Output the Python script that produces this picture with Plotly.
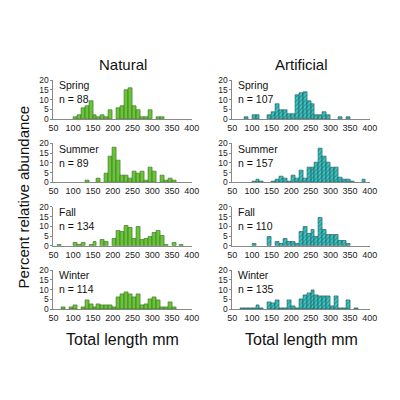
import plotly.graph_objects as go

# ---- data (bin start in mm, percent relative abundance) ----
nat_spring_bins = [100, 110, 120, 130, 140, 150, 160, 170, 180, 190, 210, 220, 230, 240, 250, 260, 270, 280, 290, 310, 320]
nat_spring_pct = [1.1, 2.3, 5.7, 6.8, 9.1, 2.3, 1.1, 2.3, 1.1, 4.5, 5.7, 6.8, 14.8, 15.9, 6.8, 4.5, 1.1, 1.1, 4.5, 1.1, 1.1]

art_spring_bins = [80, 100, 110, 140, 150, 160, 170, 180, 190, 200, 210, 220, 230, 240, 250, 260, 270, 280, 290, 320, 340]
art_spring_pct = [0.9, 1.9, 1.9, 1.9, 3.7, 7.5, 4.7, 4.7, 2.8, 2.8, 12.1, 13.1, 14.0, 9.3, 7.5, 1.9, 1.9, 3.7, 1.9, 0.9, 0.9]

nat_summer_bins = [130, 160, 180, 190, 200, 210, 220, 230, 240, 250, 260, 270, 280, 290, 300, 320, 330, 340, 350]
nat_summer_pct = [1.1, 2.2, 4.5, 13.5, 18.0, 11.2, 3.4, 3.4, 2.2, 5.6, 4.5, 5.6, 1.1, 7.9, 5.6, 3.4, 1.1, 2.2, 1.1]

art_summer_bins = [100, 110, 120, 150, 160, 170, 180, 190, 200, 210, 220, 230, 240, 250, 260, 270, 280, 290, 300, 310, 320, 330, 340, 350, 380]
art_summer_pct = [0.6, 1.3, 0.6, 0.6, 1.3, 3.2, 1.9, 0.6, 3.8, 1.9, 6.4, 1.9, 7.6, 7.6, 10.2, 17.2, 13.4, 10.2, 7.6, 7.6, 2.5, 1.3, 1.3, 0.6, 1.3]

nat_fall_bins = [60, 100, 110, 120, 140, 150, 170, 180, 200, 210, 220, 230, 240, 250, 260, 270, 280, 290, 300, 310, 320, 330, 350, 370]
nat_fall_pct = [0.7, 1.5, 0.7, 1.5, 0.7, 2.2, 3.0, 2.2, 3.7, 7.5, 7.0, 10.4, 9.0, 3.7, 9.7, 3.0, 3.7, 4.5, 6.7, 7.5, 5.2, 0.7, 1.5, 0.7]

art_fall_bins = [100, 140, 160, 170, 180, 190, 200, 210, 220, 230, 240, 250, 260, 270, 280, 290, 300, 310, 320, 330, 340]
art_fall_pct = [0.9, 4.5, 1.8, 0.9, 3.6, 1.8, 1.8, 0.9, 7.3, 10.0, 6.4, 8.2, 4.5, 14.5, 8.2, 5.5, 5.5, 5.5, 2.7, 2.7, 0.9]

nat_winter_bins = [70, 90, 100, 120, 130, 140, 150, 160, 170, 180, 190, 200, 210, 220, 230, 240, 250, 260, 270, 280, 290, 300, 310, 320, 330, 340, 350]
nat_winter_pct = [0.9, 0.9, 1.8, 0.9, 4.4, 2.6, 0.9, 2.6, 1.8, 1.8, 1.8, 0.9, 6.1, 7.9, 8.8, 7.9, 6.1, 7.9, 1.8, 2.6, 5.3, 6.1, 4.4, 0.9, 0.9, 3.5, 0.9]

art_winter_bins = [70, 80, 90, 100, 110, 120, 140, 150, 160, 170, 180, 190, 200, 210, 220, 230, 240, 250, 260, 270, 280, 290, 300, 310, 320, 330, 340, 360]
art_winter_pct = [0.7, 0.7, 0.7, 0.7, 2.2, 0.7, 3.7, 3.0, 4.4, 0.7, 0.7, 4.4, 1.5, 0.7, 5.2, 7.4, 8.1, 9.6, 7.4, 6.7, 6.7, 6.7, 1.5, 6.7, 0.7, 0.7, 4.4, 0.7]

seasons = ["Spring", "Summer", "Fall", "Winter"]
nat_n = [88, 89, 134, 114]
art_n = [107, 157, 110, 135]
x_ticks = [50, 100, 150, 200, 250, 300, 350, 400]
y_ticks = [0, 5, 10, 15, 20]

nat_data = [(nat_spring_bins, nat_spring_pct), (nat_summer_bins, nat_summer_pct),
            (nat_fall_bins, nat_fall_pct), (nat_winter_bins, nat_winter_pct)]
art_data = [(art_spring_bins, art_spring_pct), (art_summer_bins, art_summer_pct),
            (art_fall_bins, art_fall_pct), (art_winter_bins, art_winter_pct)]

# ---- layout geometry ----
W = H = 400
FONT = "Arial, Liberation Sans, sans-serif"
col_x = [(50, 193), (235, 377)]
row_y = [(77, 117), (142, 182), (207, 247), (272, 312)]

fig = go.Figure()
layout = {}
annotations = []

GREEN = "#6cc23a"
GREEN_EDGE = "#2f6e1a"
TEAL = "#3cc6c6"
TEAL_EDGE = "#1b5656"

idx = 0
for r in range(4):
    for c in range(2):
        idx += 1
        xa = "x" if idx == 1 else f"x{idx}"
        ya = "y" if idx == 1 else f"y{idx}"
        bins, pct = (nat_data if c == 0 else art_data)[r]
        centers = [b + 5 for b in bins]
        if c == 0:
            marker = dict(color=GREEN, line=dict(color=GREEN_EDGE, width=0.6))
        else:
            marker = dict(color=TEAL, line=dict(color=TEAL_EDGE, width=0.6),
                          pattern=dict(shape="/", fgcolor=TEAL_EDGE, bgcolor=TEAL,
                                       size=3, solidity=0.35))
        fig.add_trace(go.Bar(x=centers, y=pct, width=[10] * len(centers),
                             marker=marker, xaxis=xa, yaxis=ya, showlegend=False))
        x0, x1 = col_x[c]
        y0, y1 = row_y[r]
        xkey = "xaxis" if idx == 1 else f"xaxis{idx}"
        ykey = "yaxis" if idx == 1 else f"yaxis{idx}"
        layout[xkey] = dict(domain=[x0 / W, x1 / W], range=[50, 400], anchor=ya,
                            tickvals=x_ticks, showgrid=False, zeroline=False,
                            showline=True, linecolor="#888", linewidth=1,
                            ticks="", tickfont=dict(size=9, color="#222", family=FONT))
        layout[ykey] = dict(domain=[1 - y1 / H, 1 - y0 / H], range=[0, 20], anchor=xa,
                            tickvals=y_ticks, showgrid=False, zeroline=False,
                            showline=True, linecolor="#888", linewidth=1,
                            ticks="outside", ticklen=2, tickcolor="#888",
                            tickfont=dict(size=8.5, color="#222", family=FONT))
        n = (nat_n if c == 0 else art_n)[r]
        annotations.append(dict(text=f"{seasons[r]}<br>n = {n}", xref="paper", yref="paper",
                                x=(x0 + 4) / W, y=1 - (y0 - 3) / H, xanchor="left", yanchor="top",
                                align="left", showarrow=False,
                                font=dict(size=10.5, color="#111", family=FONT)))

for c, title in enumerate(["Natural", "Artificial"]):
    x0, x1 = col_x[c]
    cx = (x0 + x1) / 2 / W
    annotations.append(dict(text=title, xref="paper", yref="paper", x=cx, y=1 - 61 / H,
                            xanchor="center", yanchor="middle", showarrow=False,
                            font=dict(size=15, color="#111", family=FONT)))
    annotations.append(dict(text="Total length mm", xref="paper", yref="paper", x=cx, y=1 - 343 / H,
                            xanchor="center", yanchor="middle", showarrow=False,
                            font=dict(size=16, color="#111", family=FONT)))

annotations.append(dict(text="Percent relative abundance", xref="paper", yref="paper",
                        x=19 / W, y=1 - 197 / H, xanchor="center", yanchor="middle",
                        textangle=-90, showarrow=False,
                        font=dict(size=15, color="#111", family=FONT)))

fig.update_layout(width=W, height=H, margin=dict(l=0, r=0, t=0, b=0),
                  paper_bgcolor="white", plot_bgcolor="white", bargap=0,
                  annotations=annotations, **layout)

fig.write_html("out.html", config={"displayModeBar": False},
               post_script="document.body.style.margin='0';document.body.style.overflow='hidden';")
